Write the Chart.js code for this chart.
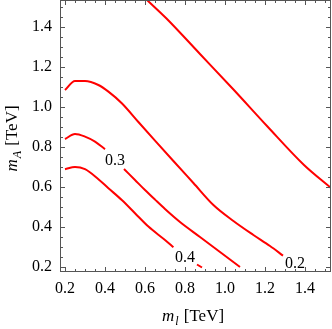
<!DOCTYPE html>
<html>
<head>
<meta charset="utf-8">
<script src="https://cdn.jsdelivr.net/npm/chart.js@4"></script>
<style>
  html, body { margin: 0; padding: 0; background: #fff; }
  canvas { display: block; }
</style>
</head>
<body>
<canvas id="chart" width="332" height="329"></canvas>
<script>
// axis ranges and ticks (TeV)
const xRange = [0.175, 1.53];
const yRange = [0.175, 1.535];
const xTicks = [0.2, 0.4, 0.6, 0.8, 1.0, 1.2, 1.4];
const yTicks = [0.2, 0.4, 0.6, 0.8, 1.0, 1.2, 1.4];

// contour lines
const level01X = [0.61, 0.705, 0.875, 1.04, 1.21, 1.395, 1.53];
const level01Y = [1.535, 1.445, 1.265, 1.09, 0.905, 0.71, 0.595];

const level02X = [0.2, 0.25, 0.30, 0.367, 0.417, 0.484, 0.567, 0.65, 0.742, 0.842, 0.942, 1.042, 1.142, 1.225, 1.29];
const level02Y = [1.085, 1.13, 1.13, 1.11, 1.077, 1.019, 0.925, 0.832, 0.73, 0.62, 0.51, 0.43, 0.36, 0.305, 0.257];

const level03aX = [0.2, 0.25, 0.30, 0.35, 0.40];
const level03aY = [0.84, 0.865, 0.852, 0.827, 0.789];
const level03bX = [0.495, 0.55, 0.60, 0.65, 0.70, 0.775, 0.875, 0.975, 1.075];
const level03bY = [0.69, 0.635, 0.585, 0.537, 0.49, 0.425, 0.35, 0.275, 0.20];

const level04aX = [0.2, 0.25, 0.30, 0.367, 0.417, 0.484, 0.55, 0.617, 0.70, 0.742];
const level04aY = [0.689, 0.70, 0.689, 0.639, 0.594, 0.535, 0.469, 0.402, 0.335, 0.299];
const level04bX = [0.86, 0.885];
const level04bY = [0.2125, 0.1975];

// contour labels
const labelText = ['0.3', '0.4', '0.2'];
const labelX = [0.45, 0.80, 1.35];
const labelY = [0.73, 0.2475, 0.218];

const serif = '"Liberation Serif", "DejaVu Serif", serif';
const frameColor = '#555';

function pts(xs, ys) {
    return xs.map((x, i) => ({ x, y: ys[i] }));
}

function line(xs, ys) {
    return {
        data: pts(xs, ys),
        showLine: true,
        borderColor: '#ff0000',
        borderWidth: 2,
        pointRadius: 0,
        cubicInterpolationMode: 'monotone',
        fill: false,
    };
}

function minorTicks(range) {
    const out = [];
    for (let v = 0.05; v < range[1]; v += 0.05) {
        if (v >= range[0]) out.push(Math.round(v * 100) / 100);
    }
    return out;
}

// frame with inward ticks on all four sides
const framePlugin = {
    id: 'frame',
    afterDraw(chart) {
        const { ctx, chartArea: a, scales } = chart;
        const xs = scales.x, ys = scales.y;
        ctx.save();
        ctx.strokeStyle = frameColor;
        ctx.lineWidth = 1;
        ctx.strokeRect(a.left + 0.5, a.top + 0.5, a.right - a.left - 1, a.bottom - a.top - 1);
        ctx.beginPath();
        const tickX = (v, len) => {
            const p = Math.round(xs.getPixelForValue(v)) + 0.5;
            ctx.moveTo(p, a.bottom); ctx.lineTo(p, a.bottom - len);
            ctx.moveTo(p, a.top); ctx.lineTo(p, a.top + len);
        };
        const tickY = (v, len) => {
            const p = Math.round(ys.getPixelForValue(v)) + 0.5;
            ctx.moveTo(a.left, p); ctx.lineTo(a.left + len, p);
            ctx.moveTo(a.right, p); ctx.lineTo(a.right - len, p);
        };
        minorTicks(xRange).forEach((v) => tickX(v, xTicks.some((t) => Math.abs(t - v) < 1e-6) ? 5 : 3));
        minorTicks(yRange).forEach((v) => tickY(v, yTicks.some((t) => Math.abs(t - v) < 1e-6) ? 5 : 3));
        ctx.stroke();

        // contour labels
        ctx.fillStyle = '#000';
        ctx.font = '16px ' + serif;
        ctx.textAlign = 'center';
        ctx.textBaseline = 'middle';
        labelText.forEach((t, i) => {
            ctx.fillText(t, xs.getPixelForValue(labelX[i]), ys.getPixelForValue(labelY[i]));
        });

        // axis titles
        const parts = (sub) => [
            { t: 'm', f: 'italic 17px ' + serif, dy: 0 },
            { t: sub, f: 'italic 12px ' + serif, dy: 4 },
            { t: ' [TeV]', f: '17px ' + serif, dy: 0 },
        ];
        const drawRich = (items, cx, baseY) => {
            let w = 0;
            items.forEach((it) => { ctx.font = it.f; w += ctx.measureText(it.t).width + 1; });
            let x = cx - w / 2;
            ctx.textAlign = 'left';
            ctx.textBaseline = 'alphabetic';
            items.forEach((it) => {
                ctx.font = it.f;
                ctx.fillText(it.t, x, baseY + it.dy);
                x += ctx.measureText(it.t).width + 1;
            });
        };
        drawRich(parts('l'), (a.left + a.right) / 2 - 2, 321);
        ctx.translate(17, (a.top + a.bottom) / 2 + 2);
        ctx.rotate(-Math.PI / 2);
        drawRich(parts('A'), 0, 0);
        ctx.restore();
    },
};

new Chart(document.getElementById('chart'), {
    type: 'scatter',
    data: {
        datasets: [
            line(level01X, level01Y),
            line(level02X, level02Y),
            line(level03aX, level03aY),
            line(level03bX, level03bY),
            line(level04aX, level04aY),
            line(level04bX, level04bY),
        ],
    },
    options: {
        responsive: false,
        animation: false,
        devicePixelRatio: 1,
        layout: { padding: { top: 0, right: 1, left: 0, bottom: 0 }, autoPadding: false },
        plugins: { legend: { display: false }, tooltip: { enabled: false } },
        scales: {
            x: {
                type: 'linear',
                min: xRange[0],
                max: xRange[1],
                grid: { display: false, drawTicks: false },
                border: { display: false },
                afterBuildTicks: (s) => { s.ticks = xTicks.map((v) => ({ value: v })); },
                afterFit: (s) => {
                    s.height = 57;
                    s.paddingLeft = 0;
                    s.paddingRight = 0;
                },
                ticks: {
                    color: '#000',
                    padding: 7,
                    maxRotation: 0,
                    font: { family: serif, size: 16 },
                    callback: (v) => Number(v).toFixed(1),
                },
            },
            y: {
                type: 'linear',
                min: yRange[0],
                max: yRange[1],
                grid: { display: false, drawTicks: false },
                border: { display: false },
                afterBuildTicks: (s) => { s.ticks = yTicks.map((v) => ({ value: v })); },
                afterFit: (s) => {
                    s.width = 60;
                    s.paddingTop = 0;
                    s.paddingBottom = 0;
                },
                ticks: {
                    color: '#000',
                    padding: 8,
                    font: { family: serif, size: 16 },
                    callback: (v) => Number(v).toFixed(1),
                },
            },
        },
    },
    plugins: [framePlugin],
});
</script>
</body>
</html>
